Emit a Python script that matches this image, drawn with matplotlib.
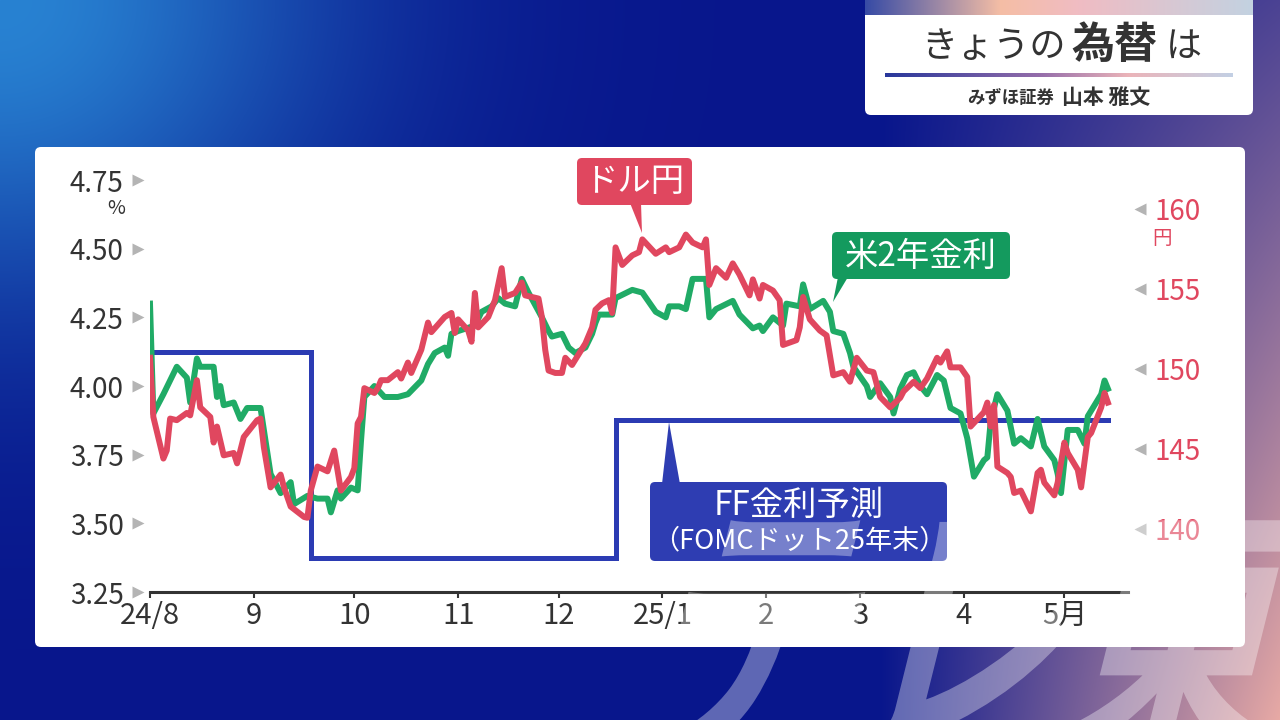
import numpy as np
import pandas as pd
import matplotlib
matplotlib.use("Agg")
import matplotlib.pyplot as plt
from matplotlib.patches import FancyBboxPatch, Polygon, PathPatch
from matplotlib.textpath import TextPath
from matplotlib.font_manager import FontProperties
from matplotlib.transforms import Affine2D

plt.rcParams['font.family'] = ['Noto Sans CJK JP', 'DejaVu Sans']

# 米2年金利 (%)
us2y_dates = [
    "2024-08-01", "2024-08-02", "2024-08-05", "2024-08-09", "2024-08-12", "2024-08-13",
    "2024-08-15", "2024-08-16", "2024-08-20", "2024-08-21", "2024-08-22", "2024-08-23",
    "2024-08-26", "2024-08-28", "2024-08-30", "2024-09-03", "2024-09-05", "2024-09-06",
    "2024-09-09", "2024-09-12", "2024-09-13", "2024-09-17", "2024-09-20", "2024-09-23",
    "2024-09-24", "2024-09-26", "2024-09-27", "2024-09-30", "2024-10-02", "2024-10-03",
    "2024-10-04", "2024-10-07", "2024-10-10", "2024-10-14", "2024-10-17", "2024-10-21",
    "2024-10-23", "2024-10-25", "2024-10-28", "2024-10-29", "2024-10-30", "2024-11-01",
    "2024-11-06", "2024-11-08", "2024-11-11", "2024-11-13", "2024-11-15", "2024-11-18",
    "2024-11-20", "2024-11-22", "2024-11-26", "2024-11-28", "2024-11-29", "2024-12-02",
    "2024-12-04", "2024-12-06", "2024-12-09", "2024-12-11", "2024-12-12", "2024-12-13",
    "2024-12-17", "2024-12-18", "2024-12-23", "2024-12-26", "2024-12-30", "2025-01-02",
    "2025-01-03", "2025-01-06", "2025-01-08", "2025-01-10", "2025-01-14", "2025-01-15",
    "2025-01-17", "2025-01-22", "2025-01-24", "2025-01-28", "2025-01-30", "2025-01-31",
    "2025-02-03", "2025-02-06", "2025-02-07", "2025-02-11", "2025-02-12", "2025-02-14",
    "2025-02-18", "2025-02-20", "2025-02-21", "2025-02-24", "2025-02-26", "2025-02-27",
    "2025-03-03", "2025-03-04", "2025-03-07", "2025-03-10", "2025-03-11", "2025-03-13",
    "2025-03-15", "2025-03-17", "2025-03-19", "2025-03-21", "2025-03-24", "2025-03-26",
    "2025-03-28", "2025-03-31", "2025-04-02", "2025-04-04", "2025-04-07", "2025-04-08",
    "2025-04-09", "2025-04-11", "2025-04-14", "2025-04-15", "2025-04-16", "2025-04-18",
    "2025-04-21", "2025-04-23", "2025-04-25", "2025-04-28", "2025-04-29", "2025-04-30",
    "2025-05-02", "2025-05-05", "2025-05-07", "2025-05-08", "2025-05-12", "2025-05-13",
    "2025-05-14",
]
us2y_values = [
    4.30, 3.90, 3.97, 4.07, 4.03, 3.94,
    4.10, 4.07, 4.07, 3.96, 4.00, 3.93,
    3.94, 3.88, 3.92, 3.92, 3.76, 3.68,
    3.61, 3.65, 3.57, 3.60, 3.59, 3.59,
    3.54, 3.62, 3.59, 3.63, 3.62, 3.80,
    3.96, 4.00, 3.96, 3.96, 3.97, 4.02,
    4.08, 4.12, 4.14, 4.11, 4.19, 4.20,
    4.22, 4.27, 4.29, 4.32, 4.30, 4.29,
    4.39, 4.34, 4.25, 4.20, 4.18, 4.19,
    4.14, 4.12, 4.14, 4.19, 4.23, 4.26,
    4.26, 4.32, 4.35, 4.34, 4.27, 4.25,
    4.29, 4.29, 4.28, 4.39, 4.39, 4.25,
    4.28, 4.31, 4.26, 4.21, 4.22, 4.20,
    4.25, 4.22, 4.30, 4.29, 4.37, 4.28,
    4.31, 4.27, 4.20, 4.19, 4.12, 4.07,
    4.00, 3.96, 4.01, 3.96, 3.90, 3.99,
    4.04, 4.05, 4.00, 3.97, 4.04, 4.02,
    3.92, 3.90, 3.81, 3.67, 3.73, 3.74,
    3.87, 3.97, 3.91, 3.85, 3.79, 3.81,
    3.78, 3.88, 3.78, 3.73, 3.68, 3.61,
    3.84, 3.84, 3.79, 3.89, 3.97, 4.02,
    3.99,
]

# ドル円 (円)
usdjpy_dates = [
    "2024-08-01", "2024-08-02", "2024-08-05", "2024-08-06", "2024-08-07", "2024-08-09",
    "2024-08-12", "2024-08-13", "2024-08-15", "2024-08-16", "2024-08-19", "2024-08-20",
    "2024-08-21", "2024-08-23", "2024-08-26", "2024-08-27", "2024-08-29", "2024-09-02",
    "2024-09-03", "2024-09-04", "2024-09-06", "2024-09-09", "2024-09-10", "2024-09-12",
    "2024-09-16", "2024-09-17", "2024-09-18", "2024-09-20", "2024-09-23", "2024-09-25",
    "2024-09-27", "2024-09-30", "2024-10-01", "2024-10-02", "2024-10-03", "2024-10-04",
    "2024-10-07", "2024-10-08", "2024-10-09", "2024-10-11", "2024-10-14", "2024-10-15",
    "2024-10-17", "2024-10-18", "2024-10-21", "2024-10-23", "2024-10-24", "2024-10-28",
    "2024-10-30", "2024-10-31", "2024-11-01", "2024-11-04", "2024-11-05", "2024-11-06",
    "2024-11-07", "2024-11-10", "2024-11-12", "2024-11-14", "2024-11-15", "2024-11-18",
    "2024-11-20", "2024-11-21", "2024-11-25", "2024-11-26", "2024-11-27", "2024-11-28",
    "2024-11-30", "2024-12-02", "2024-12-03", "2024-12-05", "2024-12-09", "2024-12-11",
    "2024-12-12", "2024-12-14", "2024-12-16", "2024-12-17", "2024-12-18", "2024-12-20",
    "2024-12-23", "2024-12-25", "2024-12-26", "2024-12-30", "2025-01-02", "2025-01-03",
    "2025-01-06", "2025-01-08", "2025-01-10", "2025-01-13", "2025-01-14", "2025-01-15",
    "2025-01-17", "2025-01-20", "2025-01-22", "2025-01-24", "2025-01-27", "2025-01-28",
    "2025-01-30", "2025-01-31", "2025-02-03", "2025-02-05", "2025-02-06", "2025-02-10",
    "2025-02-11", "2025-02-12", "2025-02-14", "2025-02-17", "2025-02-19", "2025-02-21",
    "2025-02-24", "2025-02-26", "2025-02-28", "2025-03-03", "2025-03-05", "2025-03-07",
    "2025-03-10", "2025-03-13", "2025-03-14", "2025-03-17", "2025-03-19", "2025-03-21",
    "2025-03-24", "2025-03-25", "2025-03-27", "2025-03-28", "2025-03-31", "2025-04-02",
    "2025-04-03", "2025-04-07", "2025-04-08", "2025-04-09", "2025-04-10", "2025-04-11",
    "2025-04-14", "2025-04-15", "2025-04-16", "2025-04-18", "2025-04-21", "2025-04-23",
    "2025-04-24", "2025-04-25", "2025-04-28", "2025-04-29", "2025-05-01", "2025-05-02",
    "2025-05-05", "2025-05-06", "2025-05-08", "2025-05-09", "2025-05-12", "2025-05-13",
    "2025-05-14",
]
usdjpy_values = [
    150.7, 147.0, 144.4, 144.9, 146.9, 146.8,
    147.25, 147.1, 149.3, 147.6, 147.0, 145.4,
    146.4, 144.6, 144.75, 144.1, 145.75, 146.8,
    146.9, 145.1, 142.6, 143.4, 142.6, 141.4,
    140.75, 140.7, 142.4, 143.9, 143.6, 144.9,
    142.4, 143.25, 143.8, 146.6, 147.0, 148.8,
    148.5, 148.8, 149.3, 149.3, 149.8, 149.4,
    150.4, 149.75, 151.2, 152.9, 152.3, 153.25,
    153.5, 152.25, 153.1, 152.4, 151.7, 154.75,
    152.6, 153.25, 154.3, 156.3, 154.5, 154.75,
    155.4, 154.6, 154.4, 153.25, 151.2, 149.9,
    149.75, 149.75, 150.7, 150.25, 151.6, 152.6,
    153.7, 154.1, 154.3, 153.5, 157.6, 156.5,
    157.1, 157.3, 158.1, 157.2, 157.6, 157.3,
    157.6, 158.4, 157.9, 157.6, 158.1, 155.25,
    156.3, 155.7, 156.6, 155.9, 154.6, 155.6,
    154.4, 155.25, 154.9, 154.3, 151.5, 151.8,
    152.6, 154.5, 153.1, 152.4, 152.1, 149.6,
    149.8, 149.2, 150.7, 149.9, 149.8, 148.25,
    147.6, 148.2, 148.6, 149.2, 148.8, 149.4,
    150.7, 150.4, 151.1, 150.1, 150.1, 149.5,
    146.4, 147.3, 147.9, 146.4, 147.75, 143.9,
    143.5, 143.25, 142.25, 142.4, 141.1, 143.5,
    143.7, 142.9, 142.1, 142.9, 145.4, 144.75,
    143.7, 142.6, 145.75, 146.0, 147.6, 148.5,
    147.9,
]

# FF金利予測 (FOMCドット25年末, %)
ff_dates = ["2024-08-01", "2024-09-18", "2024-12-18", "2025-05-14"]
ff_values = [4.125, 3.375, 3.875, 3.875]

month_ticks = ["2024-08-01", "2024-09-01", "2024-10-01", "2024-11-01", "2024-12-01",
               "2025-01-01", "2025-02-01", "2025-03-01", "2025-04-01", "2025-05-01"]
month_labels = ["24/8", "9", "10", "11", "12", "25/1", "2", "3", "4", "5月"]
pct_ticks = [3.25, 3.50, 3.75, 4.00, 4.25, 4.50, 4.75]
yen_ticks = [140, 145, 150, 155, 160]

GREEN = "#20ab66"
RED = "#e0475f"
BLUE = "#2b3bb3"
TXT = "#333333"


def hgrad(stops, n=256):
    pos = [s[0] for s in stops]
    cols = np.array([s[1] for s in stops]) / 255.0
    t = np.linspace(0, 1, n)
    return np.stack([np.interp(t, pos, cols[:, i]) for i in range(3)], axis=-1)[None, :, :]


fig = plt.figure(figsize=(12.8, 7.2), dpi=100)

# background in pixel coordinates
bg = fig.add_axes([0, 0, 1, 1], zorder=0)
bg.set_xlim(0, 1280)
bg.set_ylim(720, 0)
bg.axis("off")
yy, xx = np.mgrid[0:720, 0:1280]
navy = np.array([8, 22, 140])
blue = np.array([40, 130, 210])
pink = np.array([232, 170, 165])
w1 = np.exp(-((xx / 330.0) ** 2 + (yy / 300.0) ** 2))[..., None]
w2 = (np.clip((xx - 880) / 400.0, 0, 1) * (0.3 + 0.7 * yy / 720.0))[..., None]
img = navy * (1 - w1) + blue * w1
img = img * (1 - w2) + pink * w2
bg.imshow(img / 255.0, extent=[0, 1280, 720, 0], aspect="auto", zorder=0)

bg.add_patch(FancyBboxPatch((35, 147), 1210, 500, boxstyle="round,pad=0,rounding_size=6",
                            fc="white", ec="none", zorder=1))

# title card
bg.add_patch(FancyBboxPatch((865, -10), 388, 125, boxstyle="round,pad=0,rounding_size=6",
                            fc="white", ec="none", zorder=1))
strip = hgrad([(0, (55, 75, 165)), (0.35, (245, 190, 165)), (0.55, (240, 188, 195)),
               (1, (195, 210, 225))])
bg.imshow(strip, extent=[865, 1253, 15, 0], aspect="auto", zorder=2)
uline = hgrad([(0, (40, 55, 155)), (0.45, (150, 110, 170)), (0.7, (235, 180, 185)),
               (1, (195, 208, 228))])
bg.imshow(uline, extent=[885, 1233, 77, 73], aspect="auto", zorder=2)
bg.text(1066, 47, "きょうの", fontsize=26, color=TXT, ha="right", va="center", zorder=3)
bg.text(1071, 45, "為替", fontsize=31, color=TXT, ha="left", va="center",
        fontweight="bold", zorder=3)
bg.text(1166, 47, "は", fontsize=26, color=TXT, ha="left", va="center", zorder=3)
bg.text(1054, 98, "みずほ証券", fontsize=12.5, color=TXT, ha="right", va="center",
        fontweight="bold", zorder=3)
bg.text(1062, 97, "山本 雅文", fontsize=15, color=TXT, ha="left", va="center",
        fontweight="bold", zorder=3)

# chart
ax = fig.add_axes([150 / 1280, 1 - 592 / 720, 978 / 1280, 412 / 720], zorder=2)
ax.patch.set_visible(False)
ax2 = ax.twinx()
ax2.set_zorder(3)
ax2.patch.set_visible(False)

ax.plot(pd.to_datetime(ff_dates), ff_values, color=BLUE, lw=3.6, drawstyle="steps-post",
        solid_joinstyle="miter", zorder=2)
ax.plot(pd.to_datetime(us2y_dates), us2y_values, color=GREEN, lw=4.3,
        solid_joinstyle="round", zorder=3)
ax2.plot(pd.to_datetime(usdjpy_dates), usdjpy_values, color=RED, lw=4.3,
         solid_joinstyle="round", zorder=3)

ax.set_xlim(pd.Timestamp("2024-08-01"), pd.Timestamp("2025-05-20"))
ax.set_ylim(3.25, 4.75)
ax2.set_ylim(136.06, 161.81)

for a in (ax, ax2):
    for s in a.spines.values():
        s.set_visible(False)
ax.spines["bottom"].set_visible(True)
ax.spines["bottom"].set_color(TXT)
ax.spines["bottom"].set_linewidth(2.2)

ax.set_xticks(pd.to_datetime(month_ticks))
ax.set_xticklabels(month_labels)
ax.tick_params(axis="x", direction="out", length=4.5, width=1.5, color=TXT,
               labelsize=21, labelcolor=TXT, pad=2)

ax.set_yticks(pct_ticks)
ax.set_yticklabels([f"{v:.2f}" for v in pct_ticks])
ax.tick_params(axis="y", length=0, pad=19, labelsize=20, labelcolor=TXT)
ax.plot([-0.012] * len(pct_ticks), pct_ticks, ls="none", marker=">", ms=8,
        color="#b4b4b4", mec="none", transform=ax.get_yaxis_transform(), clip_on=False)

ax2.set_yticks(yen_ticks)
ax2.set_yticklabels([str(v) for v in yen_ticks])
ax2.tick_params(axis="y", length=0, pad=19, labelsize=20, labelcolor=RED)
ax2.plot([1.012] * len(yen_ticks), yen_ticks, ls="none", marker="<", ms=8,
         color="#b4b4b4", mec="none", transform=ax2.get_yaxis_transform(), clip_on=False)

# overlay for labels, pixel coordinates
ov = fig.add_axes([0, 0, 1, 1], zorder=5)
ov.set_xlim(0, 1280)
ov.set_ylim(720, 0)
ov.axis("off")

ov.text(116, 208, "%", fontsize=14, color=TXT, ha="center", va="center")
ov.text(1162, 239, "円", fontsize=14, color=RED, ha="center", va="center")


def callout(x0, y0, x1, y1, color, tip):
    ov.add_patch(FancyBboxPatch((x0, y0), x1 - x0, y1 - y0,
                                boxstyle="round,pad=0,rounding_size=5", fc=color, ec="none"))
    ov.add_patch(Polygon(tip, closed=True, fc=color, ec="none"))


callout(577, 158, 692, 205, RED, [(630, 203), (641, 203), (642, 233)])
ov.text(634, 182, "ドル円", fontsize=24, color="white", ha="center", va="center")

callout(832, 232, 1010, 279, "#149a5e", [(838, 277), (848, 277), (833, 302)])
ov.text(921, 256, "米2年金利", fontsize=24, color="white", ha="center", va="center")

callout(650, 482, 947, 561, "#2e3db2", [(662, 484), (680, 484), (669, 422)])
ov.text(799, 505, "FF金利予測", fontsize=24, color="white", ha="center", va="center")
ov.text(799, 541, "（FOMCドット25年末）", fontsize=19.5, color="white", ha="center",
        va="center")

# faint broadcaster watermark, bottom right
tp = TextPath((0, 0), "テレ東", size=280,
              prop=FontProperties(family="Noto Sans CJK JP", weight="bold"))
wm = Affine2D().scale(0.75, 1).skew_deg(14, 0).scale(1, -1).translate(635, 735) + ov.transData
ov.add_patch(PathPatch(tp, transform=wm, fc="white", ec="none", alpha=0.35))

fig.savefig("out.png", dpi=100)
